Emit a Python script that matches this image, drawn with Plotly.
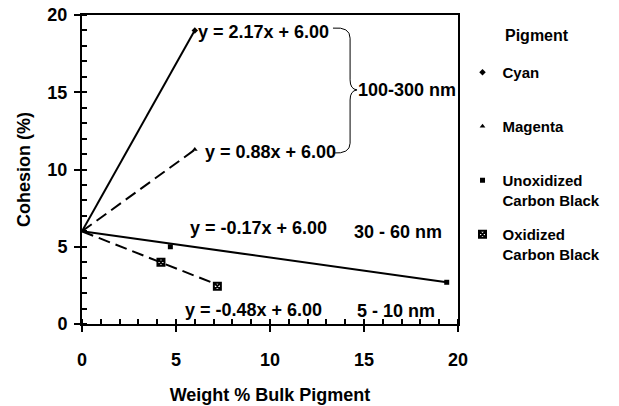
import plotly.graph_objects as go

# Measured cohesion vs. bulk pigment loading
cyan_x = [0, 6.0]
cyan_y = [6.0, 19.0]
magenta_x = [0, 6.0]
magenta_y = [6.0, 11.3]
unox_x = [0, 4.7, 19.4]
unox_y = [6.0, 5.0, 2.7]
ox_x = [0, 4.2, 7.2]
ox_y = [6.0, 4.0, 2.45]

# Linear fits (slope, intercept)
cyan_fit = (2.17, 6.00)
magenta_fit = (0.88, 6.00)
unox_fit = (-0.17, 6.00)
ox_fit = (-0.48, 6.00)

FONT = "Arial, Liberation Sans, sans-serif"
BLACK = "#000000"


def fit_line(xs, fit):
    m, b = fit
    xr = [min(xs), max(xs)]
    return xr, [m * v + b for v in xr]


def eq_text(fit):
    m, b = fit
    return f"y = {m:.2f}x + {b:.2f}"


fig = go.Figure()

series = [
    ("Cyan", cyan_x, cyan_y, cyan_fit, "solid", dict(symbol="diamond", size=5, color=BLACK)),
    ("Magenta", magenta_x, magenta_y, magenta_fit, "12px,6px",
     dict(symbol="triangle-up", size=5, color=BLACK)),
    ("Unoxidized<br>Carbon Black", unox_x, unox_y, unox_fit, "solid",
     dict(symbol="square", size=5, color=BLACK)),
    ("Oxidized<br>Carbon Black", ox_x, ox_y, ox_fit, "12px,6px",
     dict(symbol="square-x", size=7, color="white", line=dict(color=BLACK, width=2))),
]

for i, (name, xs, ys, fit, dash, marker) in enumerate(series):
    lx, ly = fit_line(xs, fit)
    fig.add_trace(go.Scatter(x=lx, y=ly, mode="lines", showlegend=False,
                             line=dict(color=BLACK, width=2, dash=dash),
                             hoverinfo="skip"))
    label = name if "<br>" in name else name + "<br>\u00a0"
    fig.add_trace(go.Scatter(x=xs[1:], y=ys[1:], mode="markers", name=label,
                             legendgroup=f"g{i}", marker=marker))

# Equation labels at the end of each fit
fig.add_annotation(x=cyan_x[-1], y=cyan_fit[0] * cyan_x[-1] + cyan_fit[1],
                   text=eq_text(cyan_fit), xanchor="left", yanchor="middle",
                   xshift=1, yshift=-2, showarrow=False)
fig.add_annotation(x=magenta_x[-1], y=magenta_fit[0] * magenta_x[-1] + magenta_fit[1],
                   text=eq_text(magenta_fit), xanchor="left", yanchor="middle",
                   xshift=8, yshift=-2, showarrow=False)
fig.add_annotation(x=9.4, y=6.2, text=eq_text(unox_fit), showarrow=False)
fig.add_annotation(x=9.1, y=0.9, text=eq_text(ox_fit), showarrow=False)

# Particle size groupings
fig.add_annotation(x=14.6, y=15.15, text="100-300 nm", xanchor="left", showarrow=False)
fig.add_annotation(x=16.8, y=5.95, text="30 - 60 nm", showarrow=False)
fig.add_annotation(x=16.7, y=0.85, text="5 - 10 nm", showarrow=False)

# Legend heading
fig.add_annotation(x=1.21, y=0.935, xref="paper", yref="paper", text="Pigment",
                   xanchor="center", yanchor="middle", showarrow=False,
                   font=dict(family=FONT, size=16, color=BLACK, weight="bold"))

# Curly brace joining the two upper fits
brace = ("M 13.35,19.15 Q 14.26,19.25 14.26,18.5 L 14.26,15.8 "
         "Q 14.26,15.2 14.63,15.15 Q 14.26,15.1 14.26,14.5 L 14.26,11.7 "
         "Q 14.26,11.0 13.35,11.07")
fig.add_shape(type="path", path=brace, xref="x", yref="y",
              line=dict(color=BLACK, width=1))

axis_common = dict(
    showgrid=False, zeroline=False, showline=True, linecolor=BLACK, linewidth=2,
    mirror=True, ticks="outside", ticklen=6, tickwidth=2, tickcolor=BLACK,
    automargin=False,
    tickfont=dict(family=FONT, size=18, color=BLACK, weight="bold"),
    minor=dict(ticks="inside", ticklen=5, tickwidth=1.5, tickcolor=BLACK, dtick=1),
)

fig.update_xaxes(range=[0, 20], dtick=5, tick0=0, ticklabelstandoff=12,
                 title=dict(text="Weight % Bulk Pigment", standoff=20,
                            font=dict(family=FONT, size=18, color=BLACK, weight="bold")),
                 **axis_common)
fig.update_yaxes(range=[0, 20], dtick=5, tick0=0, ticklabelstandoff=3,
                 title=dict(text="Cohesion (%)", standoff=12,
                            font=dict(family=FONT, size=18, color=BLACK, weight="bold")),
                 **axis_common)

fig.update_layout(
    width=619, height=406,
    margin=dict(l=82, r=161, t=15, b=82),
    paper_bgcolor="white", plot_bgcolor="white",
    font=dict(family=FONT, size=18, color=BLACK, weight="bold"),
    showlegend=True,
    legend=dict(
        x=1.012, y=0.867, xanchor="left", yanchor="top",
        valign="top", tracegroupgap=12,
        font=dict(family=FONT, size=15, color=BLACK, weight="bold"),
        bgcolor="rgba(0,0,0,0)",
    ),
)

fig.write_html("out.html")
